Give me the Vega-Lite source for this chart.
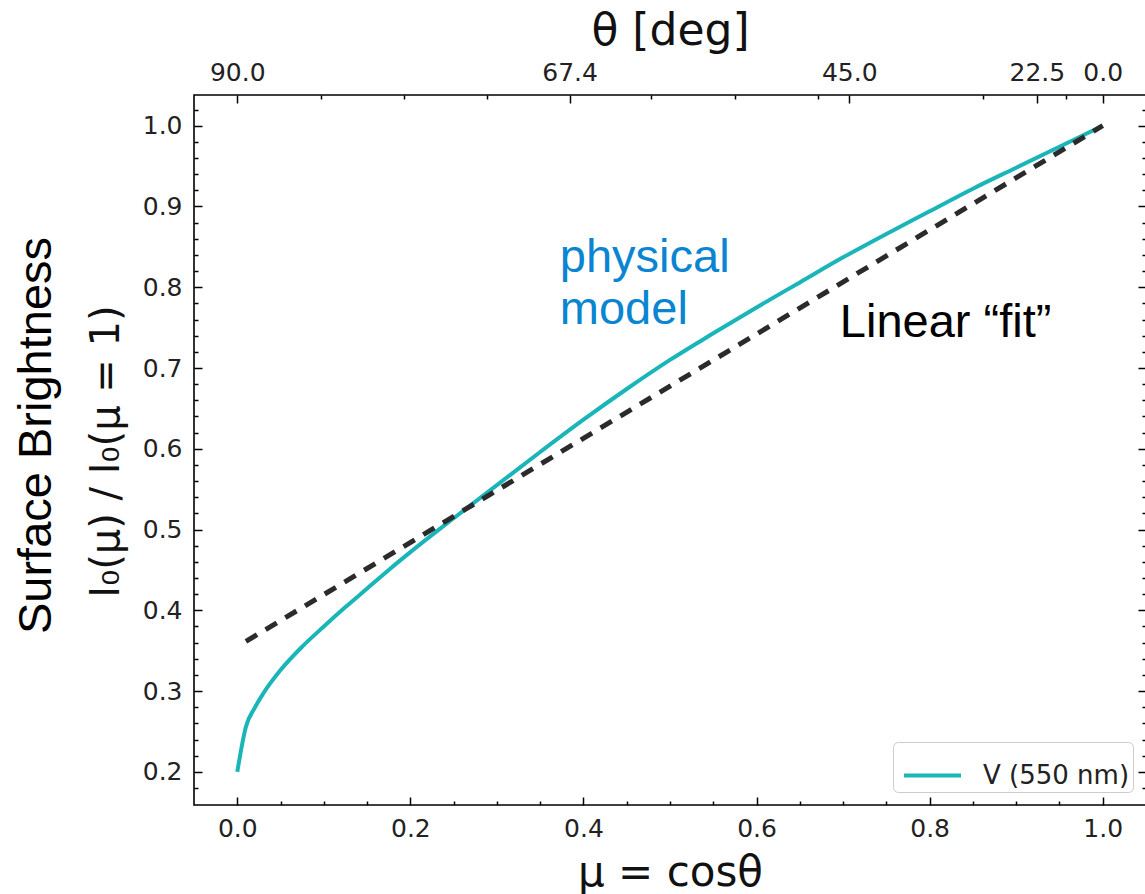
{
  "$schema": "https://vega.github.io/schema/vega-lite/v6.json",
  "width": 952,
  "height": 710,
  "autosize": {"type": "none"},
  "padding": {"left": 194, "top": 95, "right": 0, "bottom": 89},
  "background": "white",
  "config": {
    "view": {"stroke": "#000000", "strokeWidth": 1.6},
    "axis": {
      "domain": false,
      "grid": false,
      "labelFont": "DejaVu Sans",
      "labelFontSize": 25,
      "labelColor": "#222222",
      "tickColor": "#000000",
      "tickWidth": 1.5,
      "labelOverlap": false,
      "labelFlush": false,
      "titleFont": "DejaVu Sans",
      "titleColor": "#111111",
      "titleFontWeight": "normal"
    }
  },
  "datasets": {
    "physical": [
      {"mu": 0.0, "I": 0.200, "band": "V (550 nm)"},
      {"mu": 0.01, "I": 0.256, "band": "V (550 nm)"},
      {"mu": 0.02, "I": 0.279, "band": "V (550 nm)"},
      {"mu": 0.03, "I": 0.297, "band": "V (550 nm)"},
      {"mu": 0.05, "I": 0.326, "band": "V (550 nm)"},
      {"mu": 0.075, "I": 0.355, "band": "V (550 nm)"},
      {"mu": 0.1, "I": 0.380, "band": "V (550 nm)"},
      {"mu": 0.125, "I": 0.404, "band": "V (550 nm)"},
      {"mu": 0.15, "I": 0.427, "band": "V (550 nm)"},
      {"mu": 0.175, "I": 0.450, "band": "V (550 nm)"},
      {"mu": 0.2, "I": 0.472, "band": "V (550 nm)"},
      {"mu": 0.25, "I": 0.514, "band": "V (550 nm)"},
      {"mu": 0.3, "I": 0.555, "band": "V (550 nm)"},
      {"mu": 0.35, "I": 0.596, "band": "V (550 nm)"},
      {"mu": 0.4, "I": 0.636, "band": "V (550 nm)"},
      {"mu": 0.45, "I": 0.674, "band": "V (550 nm)"},
      {"mu": 0.5, "I": 0.710, "band": "V (550 nm)"},
      {"mu": 0.55, "I": 0.743, "band": "V (550 nm)"},
      {"mu": 0.6, "I": 0.775, "band": "V (550 nm)"},
      {"mu": 0.65, "I": 0.806, "band": "V (550 nm)"},
      {"mu": 0.7, "I": 0.837, "band": "V (550 nm)"},
      {"mu": 0.75, "I": 0.866, "band": "V (550 nm)"},
      {"mu": 0.8, "I": 0.894, "band": "V (550 nm)"},
      {"mu": 0.85, "I": 0.922, "band": "V (550 nm)"},
      {"mu": 0.9, "I": 0.948, "band": "V (550 nm)"},
      {"mu": 0.95, "I": 0.974, "band": "V (550 nm)"},
      {"mu": 1.0, "I": 1.000, "band": "V (550 nm)"}
    ],
    "linear": [
      {"mu": 0.01, "I": 0.3615},
      {"mu": 1.0, "I": 1.0}
    ]
  },
  "layer": [
    {
      "data": {"name": "physical"},
      "mark": {"type": "line", "strokeWidth": 4, "interpolate": "monotone"},
      "encoding": {
        "x": {
          "field": "mu", "type": "quantitative",
          "scale": {"domain": [-0.05, 1.05], "nice": false, "zero": false},
          "axis": {
            "orient": "bottom", "values": [0, 0.2, 0.4, 0.6, 0.8, 1.0], "format": ".1f",
            "tickSize": -8, "labelPadding": 19,
            "title": "μ = cosθ", "titleFontSize": 42, "titleX": 476, "titleY": 80,
            "titleBaseline": "alphabetic", "titleAlign": "center", "titleAngle": 0
          }
        },
        "y": {
          "field": "I", "type": "quantitative",
          "scale": {"domain": [0.159, 1.038], "nice": false, "zero": false},
          "axis": {
            "orient": "left", "values": [0.2, 0.3, 0.4, 0.5, 0.6, 0.7, 0.8, 0.9, 1.0], "format": ".1f",
            "tickSize": -8, "labelPadding": 20,
            "title": "I₀(μ) / I₀(μ = 1)", "titleFontSize": 40, "titleX": -76, "titleY": 356,
            "titleAngle": 270, "titleBaseline": "alphabetic", "titleAlign": "center"
          }
        },
        "color": {
          "field": "band", "type": "nominal",
          "scale": {"range": ["#1ab5b9"]},
          "legend": {
            "title": null, "orient": "bottom-right", "offset": 13,
            "symbolType": "stroke", "symbolSize": 3249, "symbolStrokeWidth": 4,
            "symbolOffset": 6,
            "labelFont": "DejaVu Sans", "labelFontSize": 26, "labelColor": "#222222",
            "labelOffset": 20, "padding": 3,
            "strokeColor": "#cccccc", "fillColor": "#ffffff", "cornerRadius": 5
          }
        }
      }
    },
    {
      "data": {"name": "linear"},
      "mark": {"type": "line", "color": "#2b2b2b", "strokeWidth": 5, "strokeDash": [13, 10]},
      "encoding": {
        "x": {
          "field": "mu", "type": "quantitative",
          "scale": {"domain": [-0.05, 1.05], "nice": false, "zero": false},
          "axis": {
            "orient": "bottom",
            "values": [0.05, 0.1, 0.15, 0.25, 0.3, 0.35, 0.45, 0.5, 0.55, 0.65, 0.7, 0.75, 0.85, 0.9, 0.95],
            "tickSize": -4, "labels": false, "title": null
          }
        },
        "y": {
          "field": "I", "type": "quantitative",
          "scale": {"domain": [0.159, 1.038], "nice": false, "zero": false},
          "axis": {
            "orient": "left",
            "values": [0.18, 0.22, 0.24, 0.26, 0.28, 0.32, 0.34, 0.36, 0.38, 0.42, 0.44, 0.46, 0.48, 0.52, 0.54, 0.56, 0.58, 0.62, 0.64, 0.66, 0.68, 0.72, 0.74, 0.76, 0.78, 0.82, 0.84, 0.86, 0.88, 0.92, 0.94, 0.96, 0.98, 1.02],
            "tickSize": -4, "labels": false,
            "title": "Surface Brightness", "titleFont": "Liberation Sans", "titleFontSize": 47,
            "titleColor": "#000000", "titleX": -144, "titleY": 340,
            "titleAngle": 270, "titleBaseline": "alphabetic", "titleAlign": "center"
          }
        }
      }
    },
    {
      "data": {"values": [{"mu": 0.3727, "I": 0.8188, "label": "physical\nmodel"}]},
      "mark": {
        "type": "text", "align": "left", "baseline": "alphabetic",
        "font": "Liberation Sans", "fontSize": 47, "color": "#0a85d1",
        "lineBreak": "\n", "lineHeight": 52
      },
      "encoding": {
        "x": {
          "field": "mu", "type": "quantitative",
          "scale": {"domain": [-0.05, 1.05], "nice": false, "zero": false},
          "axis": {
            "orient": "top", "values": [0, 0.384, 0.70711, 0.92388, 1.0],
            "labelExpr": "datum.value < 0.1 ? '90.0' : datum.value < 0.5 ? '67.4' : datum.value < 0.8 ? '45.0' : datum.value < 0.95 ? '22.5' : '0.0'",
            "tickSize": -8, "labelPadding": 18,
            "title": "θ [deg]", "titleFontSize": 44, "titleX": 476, "titleY": -51,
            "titleBaseline": "alphabetic", "titleAlign": "center"
          }
        },
        "y": {
          "field": "I", "type": "quantitative",
          "scale": {"domain": [0.159, 1.038], "nice": false, "zero": false},
          "axis": {
            "orient": "right", "values": [0.2, 0.3, 0.4, 0.5, 0.6, 0.7, 0.8, 0.9, 1.0],
            "tickSize": -8, "labels": false, "title": null
          }
        },
        "text": {"field": "label", "type": "nominal"}
      }
    },
    {
      "data": {"values": [{"mu": 0.6962, "I": 0.7383, "label": "Linear “fit”"}]},
      "mark": {
        "type": "text", "align": "left", "baseline": "alphabetic",
        "font": "Liberation Sans", "fontSize": 47, "color": "#000000"
      },
      "encoding": {
        "x": {
          "field": "mu", "type": "quantitative",
          "scale": {"domain": [-0.05, 1.05], "nice": false, "zero": false},
          "axis": {
            "orient": "top",
            "values": [0.0963, 0.1923, 0.288, 0.4786, 0.575, 0.6714, 0.8617, 0.9581],
            "tickSize": -4, "labels": false, "title": null
          }
        },
        "y": {
          "field": "I", "type": "quantitative",
          "scale": {"domain": [0.159, 1.038], "nice": false, "zero": false},
          "axis": {
            "orient": "right",
            "values": [0.18, 0.22, 0.24, 0.26, 0.28, 0.32, 0.34, 0.36, 0.38, 0.42, 0.44, 0.46, 0.48, 0.52, 0.54, 0.56, 0.58, 0.62, 0.64, 0.66, 0.68, 0.72, 0.74, 0.76, 0.78, 0.82, 0.84, 0.86, 0.88, 0.92, 0.94, 0.96, 0.98, 1.02],
            "tickSize": -4, "labels": false, "title": null
          }
        },
        "text": {"field": "label", "type": "nominal"}
      }
    }
  ],
  "resolve": {
    "scale": {"x": "shared", "y": "shared"},
    "axis": {"x": "independent", "y": "independent"}
  }
}
